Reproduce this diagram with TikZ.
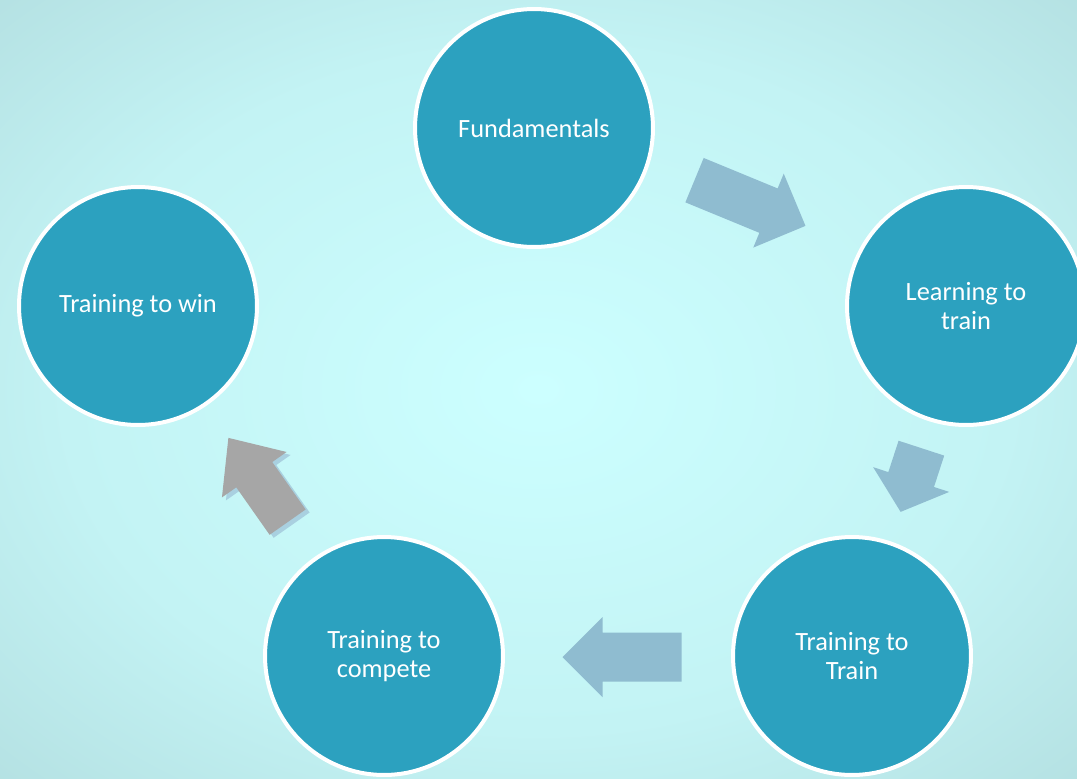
\documentclass[tikz,border=0pt]{standalone}
\usepackage{fontspec}
\setmainfont{Carlito}
\usetikzlibrary{calc}
\definecolor{bginner}{HTML}{CCFFFF}
\definecolor{bglight}{HTML}{C3F3F4}
\definecolor{bgmid}{HTML}{AED9DB}
\definecolor{bgouter}{HTML}{9FCBCE}
\definecolor{ballfill}{HTML}{2CA1BF}
\definecolor{arrfill}{HTML}{8FBCD0}
\definecolor{arrgray}{HTML}{A6A6A6}
\definecolor{arrshadow}{HTML}{A9D0E0}
\pgfdeclareradialshading{bgglow}{\pgfpoint{0bp}{0bp}}{color(0bp)=(bginner); color(22bp)=(bglight); color(42bp)=(bgmid); color(62bp)=(bgouter); color(75bp)=(bgouter)}

\begin{document}
\begin{tikzpicture}[x=0.02cm, y=-0.02cm,
  stage/.style={circle, draw=white, line width=0.08cm, fill=ballfill, minimum size=4.76cm, inner sep=0pt, align=center, text=white, font=\fontsize{15}{17}\selectfont},
  pics/blockarr/.style n args={4}{code={\fill (-#1/2,-#2)--(#1/2-#4,-#2)--(#1/2-#4,-#3)--(#1/2,0)--(#1/2-#4,#3)--(#1/2-#4,#2)--(-#1/2,#2)--cycle;}}]
\useasboundingbox (0,0) rectangle (1077,778);
\shade[shading=bgglow] (0,0) rectangle (1077,778);
\node[stage] (fund) at (534,128) {Fundamentals};
\node[stage] (ltt) at (966,306) {Learning to\\train};
\node[stage] (ttt) at (852,656) {Training to\\Train};
\node[stage] (ttc) at (384,656) {Training to\\compete};
\node[stage] (ttw) at (138,306) {Training to win};
% block arrows between the stages
\path let \p1=($(ltt)-(fund)$), \n1={atan2(\y1,\x1)} in ($(fund)!0.5!(ltt)+(0,-14)$) pic[rotate=\n1, fill=arrfill]{blockarr={120}{24}{40}{40}};
\path let \p1=($(ttt)-(ltt)$), \n1={atan2(\y1,\x1)} in ($(ltt)!0.5!(ttt)+(2,-1)$) pic[rotate=\n1, fill=arrfill]{blockarr={67}{24}{40}{34}};
\path let \p1=($(ttc)-(ttt)$), \n1={atan2(\y1,\x1)} in ($(ttt)!0.5!(ttc)+(4,1)$) pic[rotate=\n1, fill=arrfill]{blockarr={119}{24.5}{40}{40}};
\path let \p1=($(ttw)-(ttc)$), \n1={atan2(\y1,\x1)} in ($(ttc)!0.5!(ttw)+(1,2)$) pic[rotate=\n1, fill=arrshadow]{blockarr={103}{22}{39.5}{45}};
\path let \p1=($(ttw)-(ttc)$), \n1={atan2(\y1,\x1)} in ($(ttc)!0.5!(ttw)+(-3,-1)$) pic[rotate=\n1, fill=arrgray]{blockarr={103}{22}{39.5}{45}};
\end{tikzpicture}
\end{document}
